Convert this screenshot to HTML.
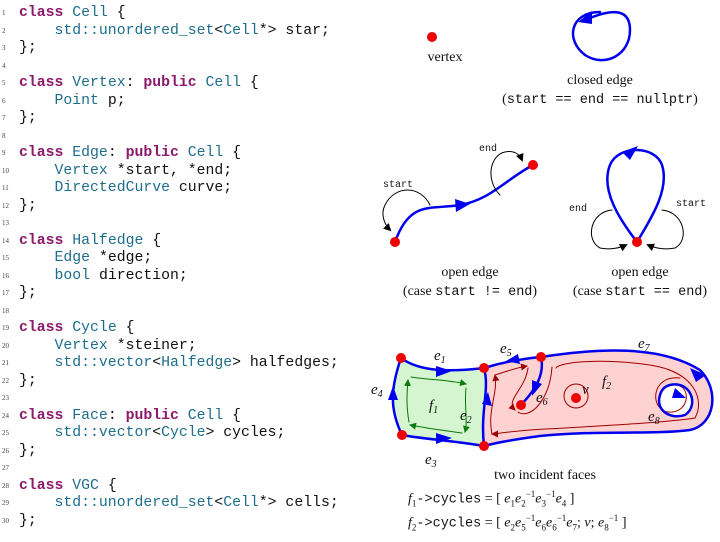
<!DOCTYPE html>
<html><head><meta charset="utf-8"><style>
body{margin:0;width:720px;height:542px;background:#fff;position:relative;overflow:hidden;font-family:"Liberation Serif",serif}
.code{position:absolute;left:0;top:5px;font-family:"Liberation Mono",monospace;font-size:14.8px;color:#111}
.l{height:17.5px;line-height:17.5px;white-space:pre;position:relative;padding-left:19px}
.n{position:absolute;left:2px;font-size:7px;color:#444;font-family:"Liberation Serif",serif}
.k{color:#8b1a6b;font-weight:bold}.t{color:#1d6e8c}
.lab{position:absolute;font-size:14px;text-align:center;color:#111;white-space:nowrap}
.tt{font-family:"Liberation Mono",monospace;font-size:13.5px}
</style></head><body>
<div class="code">
<div class="l"><span class="n">1</span><span class="k">class</span> <span class="t">Cell</span> {</div>
<div class="l"><span class="n">2</span>    <span class="t">std::unordered_set</span>&lt;<span class="t">Cell</span>*&gt; star;</div>
<div class="l"><span class="n">3</span>};</div>
<div class="l"><span class="n">4</span></div>
<div class="l"><span class="n">5</span><span class="k">class</span> <span class="t">Vertex</span>: <span class="k">public</span> <span class="t">Cell</span> {</div>
<div class="l"><span class="n">6</span>    <span class="t">Point</span> p;</div>
<div class="l"><span class="n">7</span>};</div>
<div class="l"><span class="n">8</span></div>
<div class="l"><span class="n">9</span><span class="k">class</span> <span class="t">Edge</span>: <span class="k">public</span> <span class="t">Cell</span> {</div>
<div class="l"><span class="n">10</span>    <span class="t">Vertex</span> *start, *end;</div>
<div class="l"><span class="n">11</span>    <span class="t">DirectedCurve</span> curve;</div>
<div class="l"><span class="n">12</span>};</div>
<div class="l"><span class="n">13</span></div>
<div class="l"><span class="n">14</span><span class="k">class</span> <span class="t">Halfedge</span> {</div>
<div class="l"><span class="n">15</span>    <span class="t">Edge</span> *edge;</div>
<div class="l"><span class="n">16</span>    <span class="t">bool</span> direction;</div>
<div class="l"><span class="n">17</span>};</div>
<div class="l"><span class="n">18</span></div>
<div class="l"><span class="n">19</span><span class="k">class</span> <span class="t">Cycle</span> {</div>
<div class="l"><span class="n">20</span>    <span class="t">Vertex</span> *steiner;</div>
<div class="l"><span class="n">21</span>    <span class="t">std::vector</span>&lt;<span class="t">Halfedge</span>&gt; halfedges;</div>
<div class="l"><span class="n">22</span>};</div>
<div class="l"><span class="n">23</span></div>
<div class="l"><span class="n">24</span><span class="k">class</span> <span class="t">Face</span>: <span class="k">public</span> <span class="t">Cell</span> {</div>
<div class="l"><span class="n">25</span>    <span class="t">std::vector</span>&lt;<span class="t">Cycle</span>&gt; cycles;</div>
<div class="l"><span class="n">26</span>};</div>
<div class="l"><span class="n">27</span></div>
<div class="l"><span class="n">28</span><span class="k">class</span> <span class="t">VGC</span> {</div>
<div class="l"><span class="n">29</span>    <span class="t">std::unordered_set</span>&lt;<span class="t">Cell</span>*&gt; cells;</div>
<div class="l"><span class="n">30</span>};</div>
</div>

<svg width="720" height="542" style="position:absolute;left:0;top:0">
<defs>
<marker id="ak" markerWidth="8" markerHeight="8" refX="6" refY="4" orient="auto" markerUnits="userSpaceOnUse"><path d="M0,0 L8,4 L0,8 Z" fill="#000"/></marker>
<marker id="ag" markerWidth="7" markerHeight="7" refX="6" refY="3.5" orient="auto" markerUnits="userSpaceOnUse"><path d="M0,0 L7,3.5 L0,7 Z" fill="#0a7a0a"/></marker>
<marker id="ar" markerWidth="7" markerHeight="7" refX="6" refY="3.5" orient="auto" markerUnits="userSpaceOnUse"><path d="M0,0 L7,3.5 L0,7 Z" fill="#a00000"/></marker>
</defs>
<g stroke-linecap="round">
<circle cx="432" cy="37" r="5" fill="#e00"/>
<path d="M600,12 C570,12 565,40 585,55 C605,68 630,55 630,30 C630,10 615,8 590,18" fill="none" stroke="#0000ee" stroke-width="2.5"/>
<path d="M578,22 L592,11 L592,24 Z" fill="#0000ee"/>
<path d="M395,242 C410,200 430,210 460,205 C490,200 505,180 533,165" fill="none" stroke="#0000ee" stroke-width="2.5"/>
<path d="M455,199 L470,204 L456,212 Z" fill="#0000ee"/>
<path d="M430,205 C420,185 395,185 385,205 C380,215 385,225 390,230" fill="none" stroke="#000" stroke-width="1" marker-end="url(#ak)"/>
<path d="M500,195 C485,180 490,155 505,152 C515,150 520,155 522,160" fill="none" stroke="#000" stroke-width="1" marker-end="url(#ak)"/>
<circle cx="395" cy="242" r="5" fill="#e00"/><circle cx="533" cy="165" r="5" fill="#e00"/>
<path d="M637,242 C620,220 600,190 610,165 C618,145 655,145 662,165 C670,190 650,220 637,242" fill="none" stroke="#0000ee" stroke-width="2.5"/>
<path d="M622,152 L638,146 L630,160 Z" fill="#0000ee"/>
<path d="M612,210 C590,212 585,240 600,248 C610,250 620,248 626,245" fill="none" stroke="#000" stroke-width="1" marker-end="url(#ak)"/>
<path d="M662,210 C684,212 690,240 675,248 C665,250 655,248 648,245" fill="none" stroke="#000" stroke-width="1" marker-end="url(#ak)"/>
<circle cx="637" cy="242" r="5" fill="#e00"/>
<path d="M401,358 C420,372 450,372 484,368 C490,390 480,410 484,446 C450,440 430,440 402,435 C390,410 390,390 401,358 Z" fill="#d4f5cf"/>
<path d="M484,368 C510,360 530,358 541,357 C600,350 660,345 700,370 C720,390 715,425 690,430 C650,435 600,430 540,436 C510,440 495,443 484,446 C480,410 490,390 484,368 Z" fill="#ffd2d2"/>
<path d="M670,385 C690,380 700,405 685,415 C670,420 655,410 660,395 Z" fill="#fff"/>
<path d="M411,377 C430,380 450,380 466,384" fill="none" stroke="#0a7a0a" stroke-width="1" marker-end="url(#ag)"/>
<path d="M466,388 C464,405 468,420 465,432" fill="none" stroke="#0a7a0a" stroke-width="1" marker-end="url(#ag)"/>
<path d="M462,433 C440,430 425,428 410,425" fill="none" stroke="#0a7a0a" stroke-width="1" marker-end="url(#ag)"/>
<path d="M409,422 C406,405 407,392 408,380" fill="none" stroke="#0a7a0a" stroke-width="1" marker-end="url(#ag)"/>
<path d="M495,375 C505,372 515,368 527,366" fill="none" stroke="#a00000" stroke-width="1" marker-end="url(#ar)"/>
<path d="M528,368 C525,390 505,400 515,410" fill="none" stroke="#a00000" stroke-width="1" marker-end="url(#ar)"/>
<path d="M518,412 C530,420 550,400 552,367" fill="none" stroke="#a00000" stroke-width="1"/>
<path d="M556,368 C560,362 600,358 650,365 C695,372 705,400 695,418 C670,422 620,425 530,430 C505,432 495,434 492,434" fill="none" stroke="#a00000" stroke-width="1" marker-end="url(#ar)"/>
<path d="M492,434 C487,410 498,395 495,375" fill="none" stroke="#a00000" stroke-width="1" marker-end="url(#ar)"/>
<circle cx="576" cy="396" r="12" fill="none" stroke="#a00000" stroke-width="1"/>
<path d="M680,378 C650,375 650,410 668,412 C690,414 692,385 675,385" fill="none" stroke="#a00000" stroke-width="1"/>
<g fill="none" stroke="#0000ee" stroke-width="2.5">
<path d="M401,358 C420,372 450,372 484,368"/>
<path d="M484,368 C490,390 480,410 484,446"/>
<path d="M402,435 C430,440 450,440 484,446"/>
<path d="M402,435 C390,410 390,390 401,358"/>
<path d="M484,368 C510,360 530,358 541,357"/>
<path d="M541,357 C545,375 535,390 521,405"/>
<path d="M541,357 C600,348 660,345 700,370 C720,390 715,425 690,430 C650,435 600,430 540,436 C510,440 495,443 484,446"/>
<path d="M670,385 C690,380 700,405 685,415 C670,420 655,410 660,395 C662,388 666,386 670,385"/>
</g>
<g fill="#0000ee">
<path d="M436,366 L452,371 L436,377 Z"/><path d="M436,433 L452,438 L436,444 Z"/>
<path d="M388,400 L393,386 L398,400 Z"/><path d="M482,404 L488,392 L492,406 Z"/>
<path d="M520,364 L506,361 L518,354 Z"/><path d="M532,380 L532,396 L542,384 Z"/>
<path d="M690,368 L706,375 L696,382 Z"/><path d="M675,388 L686,398 L672,398 Z"/>
</g>
<g fill="#e00"><circle cx="401" cy="358" r="5"/><circle cx="402" cy="435" r="5"/><circle cx="484" cy="368" r="5"/><circle cx="484" cy="446" r="5"/><circle cx="541" cy="357" r="5"/><circle cx="521" cy="405" r="5"/><circle cx="576" cy="398" r="5"/></g>
</g>
<g font-family="Liberation Serif,serif" font-style="italic" font-size="15" fill="#111">
<text x="434" y="360">e<tspan font-size="10" dy="3">1</tspan></text>
<text x="460" y="420">e<tspan font-size="10" dy="3">2</tspan></text>
<text x="425" y="464">e<tspan font-size="10" dy="3">3</tspan></text>
<text x="371" y="394">e<tspan font-size="10" dy="3">4</tspan></text>
<text x="500" y="353">e<tspan font-size="10" dy="3">5</tspan></text>
<text x="536" y="402">e<tspan font-size="10" dy="3">6</tspan></text>
<text x="638" y="348">e<tspan font-size="10" dy="3">7</tspan></text>
<text x="648" y="421">e<tspan font-size="10" dy="3">8</tspan></text>
<text x="429" y="410">f<tspan font-size="10" dy="3">1</tspan></text>
<text x="602" y="386">f<tspan font-size="10" dy="3">2</tspan></text>
<text x="582" y="394">v</text>
</g>
<g font-family="Liberation Mono,monospace" font-size="10" fill="#111">
<text x="383" y="187">start</text><text x="479" y="151">end</text>
<text x="569" y="211">end</text><text x="676" y="206">start</text>
</g>
</svg>
<div class="lab" style="left:405px;top:50px;width:80px">vertex</div>
<div class="lab" style="left:500px;top:73px;width:200px">closed edge</div>
<div class="lab" style="left:490px;top:92px;width:220px">(<span class="tt">start == end == nullptr</span>)</div>
<div class="lab" style="left:370px;top:265px;width:200px">open edge</div>
<div class="lab" style="left:370px;top:284px;width:200px">(case <span class="tt">start != end</span>)</div>
<div class="lab" style="left:540px;top:265px;width:200px">open edge</div>
<div class="lab" style="left:540px;top:284px;width:200px">(case <span class="tt">start == end</span>)</div>
<div class="lab" style="left:445px;top:468px;width:200px">two incident faces</div>
<div class="lab" style="left:408px;top:489px;text-align:left"><i>f</i><sub style="font-size:9px">1</sub><span class="tt">-&gt;cycles</span> = [ <i>e</i><sub style="font-size:9px">1</sub><i>e</i><sub style="font-size:9px">2</sub><sup style="font-size:9px">−1</sup><i>e</i><sub style="font-size:9px">3</sub><sup style="font-size:9px">−1</sup><i>e</i><sub style="font-size:9px">4</sub> ]</div>
<div class="lab" style="left:408px;top:513px;text-align:left"><i>f</i><sub style="font-size:9px">2</sub><span class="tt">-&gt;cycles</span> = [ <i>e</i><sub style="font-size:9px">2</sub><i>e</i><sub style="font-size:9px">5</sub><sup style="font-size:9px">−1</sup><i>e</i><sub style="font-size:9px">6</sub><i>e</i><sub style="font-size:9px">6</sub><sup style="font-size:9px">−1</sup><i>e</i><sub style="font-size:9px">7</sub>; <i>v</i>; <i>e</i><sub style="font-size:9px">8</sub><sup style="font-size:9px">−1</sup> ]</div>
</body></html>
